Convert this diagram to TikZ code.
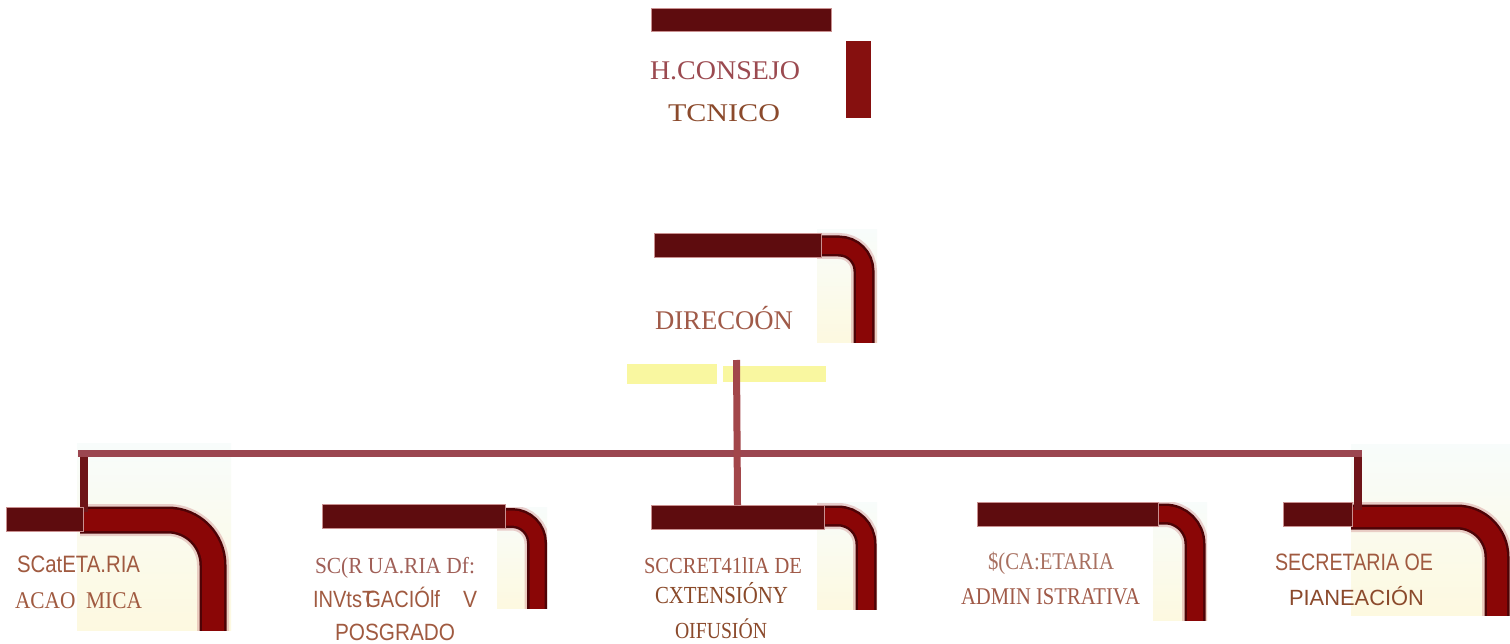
\documentclass[tikz,border=0pt]{standalone}
\usepackage{fontspec}
\setmainfont{Liberation Serif}
\setsansfont{Liberation Sans}
\usepackage{graphicx}

\definecolor{barDark}{HTML}{5E0C0E}
\definecolor{barRed}{HTML}{86100F}
\definecolor{barEdge}{HTML}{C99090}
\definecolor{bandDark}{HTML}{4E0306}
\definecolor{bandRed}{HTML}{8A0606}
\definecolor{bandHalo}{HTML}{D08A8A}
\definecolor{lineRose}{HTML}{9B4650}
\definecolor{lineDrop}{HTML}{6E1418}
\definecolor{lineMain}{HTML}{A2464A}
\definecolor{hiYellow}{HTML}{F9F7A0}
\definecolor{paleTop}{HTML}{F8FCFB}
\definecolor{paleBot}{HTML}{FDF9E0}
\definecolor{txRose}{HTML}{9B4A50}
\definecolor{txBrown}{HTML}{8B4A2C}
\definecolor{txClay}{HTML}{A05A48}
\definecolor{txRust}{HTML}{A05A40}
\definecolor{txPink}{HTML}{A06058}
\definecolor{txPale}{HTML}{A87060}
\definecolor{txDeep}{HTML}{8A4A2A}

% serif / sans at a given pixel size
\newcommand\fsr[1]{\fontsize{#1}{#1}\selectfont\rmfamily}
\newcommand\fsa[1]{\fontsize{#1}{#1}\selectfont\sffamily}
% label: x, baseline y, ink width, colour, name, content
\newcommand\txt[6]{\node[lab,text=#4] (#5) at (#1,#2) {\resizebox{#3pt}{\height}{#6}};}
% pale panel with a thick rounded red band: clip rectangle, band path, band width, radius
\newcommand\curveimg[4]{%
  \begin{scope}
    \clip #1;
    \shade[top color=paleTop, bottom color=paleBot] #1;
    \draw[bandHalo, line width=#3pt+5pt, rounded corners=#4pt, opacity=0.4] #2;
    \draw[bandDark, line width=#3pt, rounded corners=#4pt] #2;
    \draw[bandRed, line width=#3pt-5pt, rounded corners=#4pt] #2;
  \end{scope}}

\tikzset{
  bar/.style={draw=barEdge, line width=0.6pt, fill=barDark, inner sep=0pt, outer sep=0pt},
  lab/.style={anchor=base west, inner sep=0pt, outer sep=0pt},
  hilite/.style={fill=hiYellow, draw=none, inner sep=0pt, outer sep=0pt},
}

\begin{document}
\begin{tikzpicture}[x=1pt,y=-1pt]
\useasboundingbox (0,0) rectangle (1510,644);
\fill[white] (0,0) rectangle (1510,644);

% curved corner panels
\curveimg{(817,230) rectangle (877,342)}{(810,246) -- (864,246) -- (864,350)}{21}{25}
\curveimg{(77,443) rectangle (231,630)}{(80,520) -- (213,520) -- (213,640)}{27}{45}
\curveimg{(497,507) rectangle (547,608)}{(490,518) -- (537,518) -- (537,620)}{20}{25}
\curveimg{(817,502) rectangle (877,609)}{(810,516) -- (866,516) -- (866,620)}{21}{28}
\curveimg{(1153,502) rectangle (1207,620)}{(1145,514) -- (1195,514) -- (1195,630)}{21}{30}
\curveimg{(1351,444) rectangle (1510,615)}{(1345,517) -- (1497,517) -- (1497,630)}{25}{40}

% yellow highlights under the direction box
\node[hilite, minimum width=90pt, minimum height=20pt] (hiA) at (672,374) {};
\node[hilite, minimum width=103pt, minimum height=16pt] (hiB) at (774.5,374) {};

% bars
\node[bar, minimum width=180pt, minimum height=23pt] (topbar) at (741,19.5) {};
\node[bar, fill=barRed, draw=none, minimum width=25pt, minimum height=77pt] (redbar) at (858.5,79.5) {};
\node[bar, minimum width=167pt, minimum height=24pt] (dirbar) at (737.5,245) {};
\node[bar, minimum width=183pt, minimum height=24pt] (bar2) at (413.5,516) {};
\node[bar, minimum width=173pt, minimum height=24pt] (bar3) at (737.5,517) {};
\node[bar, minimum width=181pt, minimum height=24pt] (bar4) at (1067.5,514) {};
\node[bar, minimum width=69pt, minimum height=24pt] (bar5) at (1317.5,514) {};

% connectors
\coordinate (dirfoot) at (736.5,360);
\coordinate (hL) at (78,453.5);
\coordinate (hR) at (1362,453.5);
\coordinate (dropL) at (84,512);
\coordinate (dropR) at (1358,510);
\draw[lineRose, line width=7pt] (hL) -- (hR);
\draw[lineDrop, line width=8pt] (84,457) -- (dropL);
\draw[lineDrop, line width=8pt] (1358,457) -- (dropR);
\draw[lineMain, line width=7pt] (dirfoot) -- (bar3.north);

\node[bar, minimum width=77pt, minimum height=24pt] (bar1) at (44.5,519) {};

% labels
\txt{650}{80}{150}{txRose}{consejoA}{\fsr{27}H.CONSEJO}
\txt{668}{122}{112}{txBrown}{consejoB}{\fsr{25.5}TCNICO}
\txt{655}{330}{138}{txClay}{direccion}{\fsr{27}DIRECOÓN}

\txt{17}{572}{123}{txRust}{acadA}{\fsa{23.7}SCatETA.RIA}
\txt{15}{608}{127}{txRust}{acadB}{\fsr{24}ACAO\hspace{0.5em}MICA}

\txt{315}{573}{160}{txPink}{invA}{\fsr{23}SC(R UA.RIA Df:}
\txt{313}{607}{127}{txRust}{invB}{\fsa{23.5}INVtsT\kern-0.45em GACIÓlf}
\txt{463}{607}{14}{txRust}{invC}{\fsa{23.5}V}
\txt{335}{640}{120}{txRust}{invD}{\fsa{23.5}POSGRADO}

\txt{644}{573}{158}{txClay}{extA}{\fsr{23}SCCRET41lIA DE}
\txt{655}{603}{133}{txDeep}{extB}{\fsr{24.5}CXTENSIÓNY}
\txt{675}{638}{92}{txBrown}{extC}{\fsr{23}OIFUSIÓN}

\txt{988}{569}{126}{txPale}{admA}{\fsr{24}\$(CA:ETARIA}
\txt{961}{604}{179}{txClay}{admB}{\fsr{24}ADMIN ISTRATIVA}

\txt{1275}{570}{158}{txRust}{plaA}{\fsa{23.7}SECRETARIA OE}
\txt{1289}{605}{135}{txBrown}{plaB}{\fsa{22}PIANEACIÓN}
\end{tikzpicture}
\end{document}
